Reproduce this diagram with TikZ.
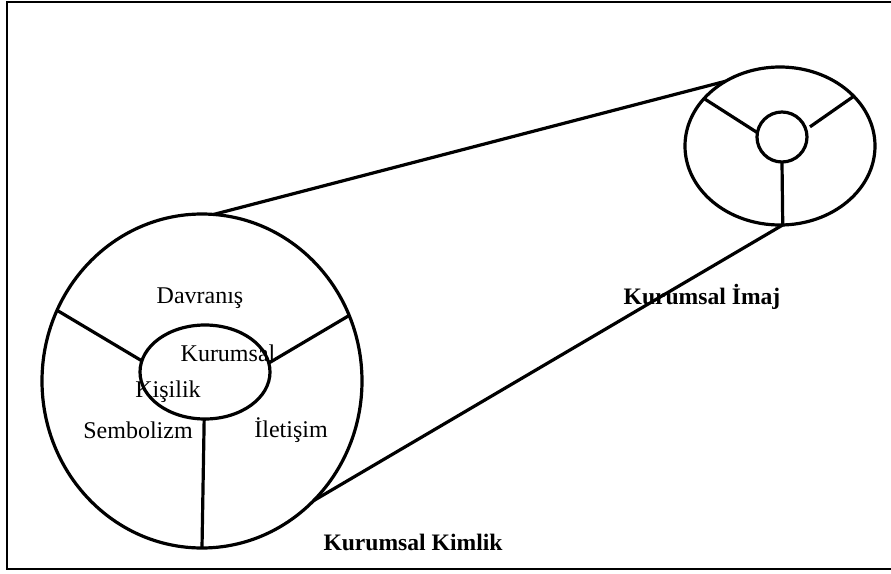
\documentclass[tikz,border=0pt]{standalone}
\usepackage{fontspec}
\setmainfont{Liberation Serif}
\usetikzlibrary{shapes.geometric}

\tikzset{
  ring/.style={draw, ellipse, line width=1.6pt, inner sep=0pt, outer sep=0pt},
  spoke/.style={line width=1.6pt},
  part/.style={font=\fontsize{12}{14}\selectfont, inner sep=0pt},
  title/.style={font=\fontsize{11.8}{14}\selectfont\bfseries, inner sep=0pt}
}

\begin{document}
\begin{tikzpicture}[x=0.5pt, y=-0.5pt]
            \useasboundingbox (0,0) rectangle (891,574);
            \draw[line width=1pt] (895,2) -- (7,2) -- (7,569) -- (895,569);
            % corporate identity wheel
            \node[ring, minimum width=160pt, minimum height=167pt] (kimlik_outer) at (202,381) {};
            \node[ring, minimum width=65pt, minimum height=47pt] (kimlik_inner) at (205,372) {};
            \draw[spoke] (kimlik_inner.170) -- (kimlik_outer.154);
            \draw[spoke] (kimlik_inner.8) -- (kimlik_outer.24);
            \draw[spoke] (kimlik_inner.-91) -- (kimlik_outer.-90);
            \node[part] (davranis) at (200,298) {Davranış};
            \node[part] (kurumsal) at (228,353) {Kurumsal};
            \node[part] (kisilik) at (168,392) {Kişilik};
            \node[part] (sembolizm) at (138,430) {Sembolizm};
            \node[part] (iletisim) at (291,430) {İletişim};
            % corporate image wheel
            \node[ring, minimum width=95pt, minimum height=79pt] (imaj_outer) at (780,146) {};
            \node[ring, circle, minimum size=25pt] (imaj_inner) at (782,137) {};
            \draw[spoke] (imaj_inner.170) -- (imaj_outer.148);
            \draw[spoke, shorten <=2.5pt] (imaj_inner.17) -- (imaj_outer.34);
            \draw[spoke] (imaj_inner.-90) -- (imaj_outer.-88);
            % projection lines
            \draw[spoke] (kimlik_outer.86) -- (imaj_outer.130);
            \draw[spoke] (kimlik_outer.-47) -- (imaj_outer.-88);
            \node[title] (kimlik_label) at (413,542) {Kurumsal Kimlik};
            \node[title] (imaj_label) at (702,297) {Kurumsal İmaj};
        \end{tikzpicture}
\end{document}
